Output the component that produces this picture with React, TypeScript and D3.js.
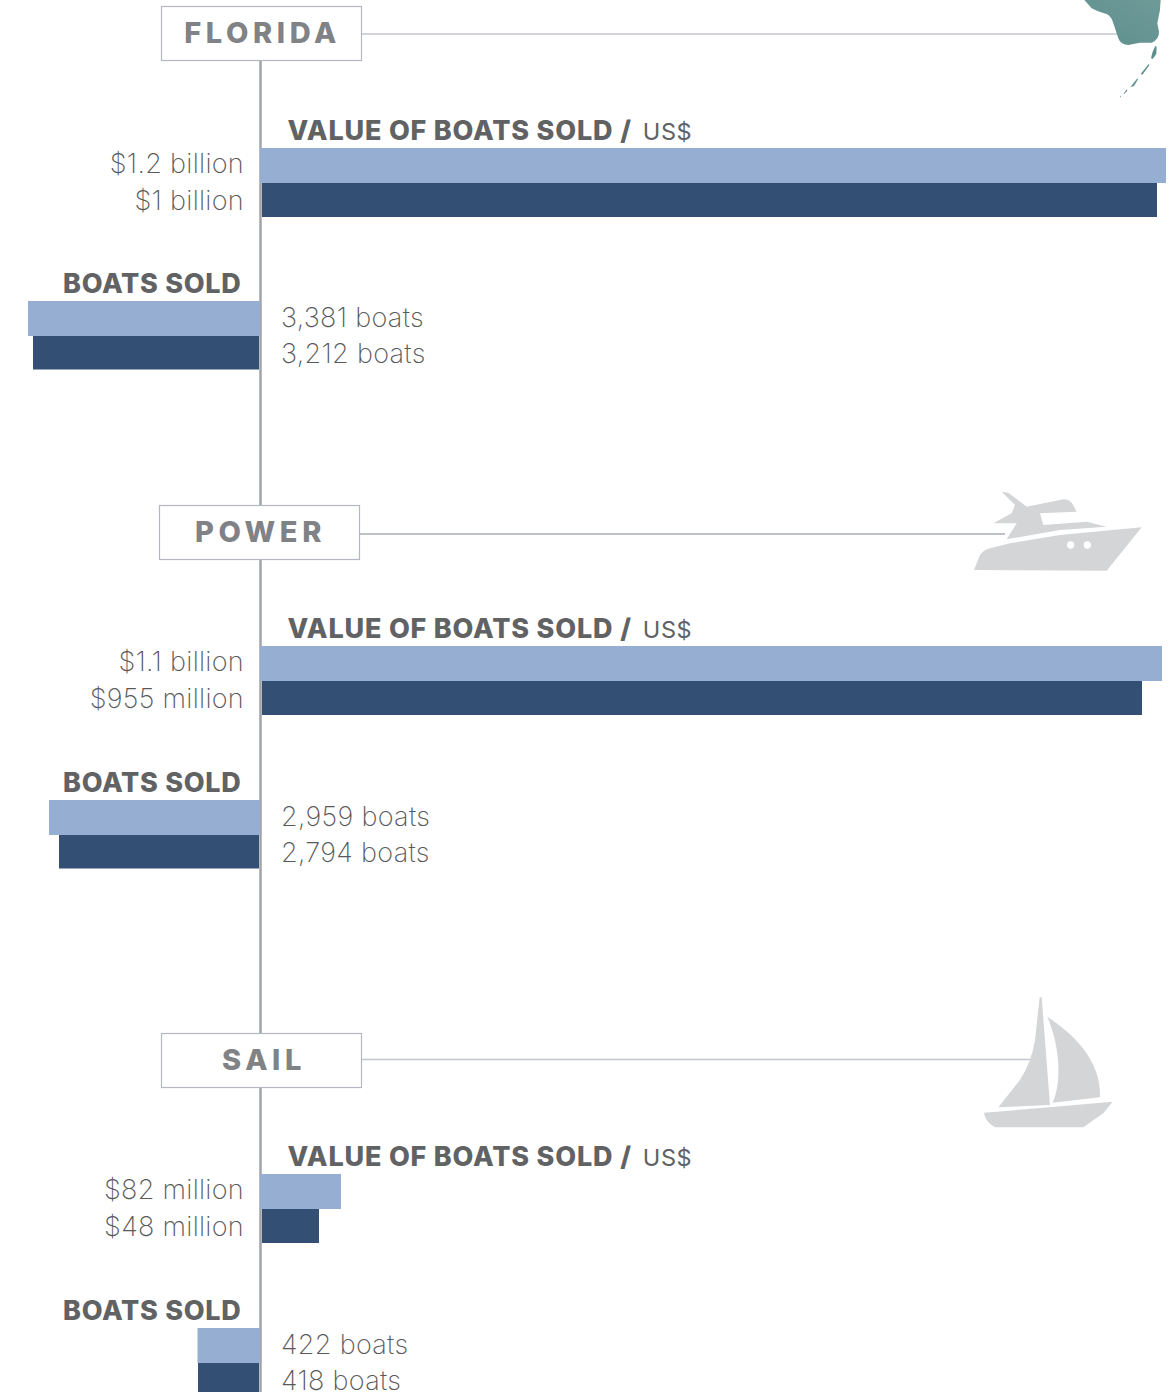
import React from "react";
import * as d3 from "d3";

const sections = ["FLORIDA", "POWER", "SAIL"];
const valueAmounts = [[1200, 1000], [1100, 955], [82, 48]];
const valueLabels = [["$1.2 billion", "$1 billion"], ["$1.1 billion", "$955 million"], ["$82 million", "$48 million"]];
const boatCounts = [[3381, 3212], [2959, 2794], [422, 418]];
const boatLabels = [["3,381 boats", "3,212 boats"], ["2,959 boats", "2,794 boats"], ["422 boats", "418 boats"]];

const AXIS = 260.5;
const valueScale = d3.scaleLinear().domain([0, 48, 82, 955, 1000, 1100, 1200]).range([0, 57, 81, 880, 895, 902, 906]);
const boatScale = d3.scaleLinear().domain([0, 418, 422, 2794, 2959, 3212, 3381]).range([0, 62, 62.5, 201, 211, 227, 232]);

const layout = [
  { boxX: 161, boxY: 6, lineEnd: 1120, lineY: 34, textX: 262.5, v: 148, b: 301, vGap: 35, bGap: 35, lineColor: "#c3c5ce" },
  { boxX: 159, boxY: 505, lineEnd: 1005, lineY: 534, textX: 260.5, v: 646, b: 800, vGap: 35, bGap: 35, lineColor: "#a9abb8" },
  { boxX: 161, boxY: 1033, lineEnd: 1035, lineY: 1059.5, textX: 264, v: 1174, b: 1328, vGap: 35, bGap: 35, lineColor: "#c3c5ce" },
];
const LIGHT = "#97aed3";
const DARK = "#344f74";
const FONT = "Inter, sans-serif";

const MAP = "M103 0L125 25Q150 38 170 42Q185 50 190 70L205 115Q212 135 235 135L270 128L305 128Q328 118 327 95L322 70L330 30L332 0Z";
const KEYS = ["M316 138L320 140L319 162L308 177L303 175L308 155Z", "M296 192L298 196L277 224L272 222Z", "M262 235L264 238L252 258L241 262Z", "M231 268L232 272L222 282L221 280Z", "M211 287L213 288L211 293L210 292Z"];
const YACHT = ["M42 270L60 225Q70 210 90 205L150 190L300 165L545 142L440 272Z", "M125 35L145 38L200 80L310 58Q330 58 338 72L350 95L240 100L250 135L380 125L440 140L300 150L140 178L170 130L100 130L155 100L165 75Z"];
const SAIL = ["M209 22L215 22L240 345L85 352L150 270Q185 215 195 150Z", "M232 80C300 125 395 205 390 322L248 338C275 280 272 175 232 80Z", "M42 368L238 352L428 335L400 370L340 412L75 412Q45 395 42 368Z"];

function ValueLabel({ x, y, text, anchor }: any) {
  return <text x={x} y={y} textAnchor={anchor} fontFamily={FONT} fontWeight={200} fontSize={27} letterSpacing={0.3} fill="#58595b">{text}</text>;
}

export default function App() {
  return (
    <svg width={1170} height={1392} style={{ position: "absolute", left: 0, top: 0, background: "#fff" }}>
      <defs>
        <linearGradient id="map" x1="0" y1="1" x2="1" y2="0">
          <stop offset="0" stopColor="#5d8f8e" />
          <stop offset="1" stopColor="#6f9a98" />
        </linearGradient>
      </defs>
      <line x1={AXIS} x2={AXIS} y1={60} y2={1392} stroke="#a0a3ab" strokeWidth={2.5} />
      {sections.map((name, i) => {
        const l = layout[i];
        return (
          <g key={name}>
            <line x1={l.boxX + 200} x2={l.lineEnd} y1={l.lineY} y2={l.lineY} stroke={l.lineColor} strokeWidth={1.4} />
            <rect x={l.boxX + 0.5} y={l.boxY + 0.5} width={200} height={54} fill="#fff" stroke="#b4b7c0" strokeWidth={1.2} />
            <text x={l.textX} y={l.boxY + 37} textAnchor="middle" fontFamily={FONT} fontWeight={800} fontSize={29} letterSpacing={4.6} fill="#808285">{name}</text>
            <text x={287.5} y={l.v - 8.5} fontFamily={FONT} fontSize={27} fontWeight={800} fill="#616264" letterSpacing={0.8}>VALUE OF BOATS SOLD
              <tspan dx={8} fontWeight={800}>/</tspan><tspan dx={11} fontWeight={400} fontSize={23.5} letterSpacing={0.6}>US$</tspan></text>
            {valueAmounts[i].map((v, k) => (
              <g key={k}>
                <rect x={k === 0 ? 260 : 262} y={l.v + k * l.vGap} width={valueScale(v)} height={k === 0 ? 35 : 34} fill={k === 0 ? LIGHT : DARK} />
                <ValueLabel x={244} y={l.v + 25 + k * 36.5} text={valueLabels[i][k]} anchor="end" />
              </g>
            ))}
            <text x={241.5} y={l.b - 8.5} textAnchor="end" fontFamily={FONT} fontSize={27} fontWeight={800} fill="#616264" letterSpacing={0.7}>BOATS SOLD</text>
            {boatCounts[i].map((v, k) => (
              <g key={k}>
                <rect x={260 - boatScale(v)} y={l.b + k * l.bGap} width={boatScale(v) - (k === 0 ? 0 : 1)} height={k === 0 ? 35 : 33.5} fill={k === 0 ? LIGHT : DARK} />
                <ValueLabel x={281} y={l.b + 26 + k * 36} text={boatLabels[i][k]} anchor="start" />
              </g>
            ))}
          </g>
        );
      })}
      <g transform="translate(1050,0) scale(0.3333)">
        <path d={MAP} fill="url(#map)" />
        {KEYS.map((d, i) => <path key={i} d={d} fill="#5d8f8e" />)}
      </g>
      <g transform="translate(960,480) scale(0.3333)" fill="#d3d5d7">
        {YACHT.map((d, i) => <path key={i} d={d} />)}
        <circle cx={332} cy={195} r={11} fill="#fff" />
        <circle cx={382} cy={195} r={11} fill="#fff" />
      </g>
      <g transform="translate(970,990) scale(0.3333)" fill="#d3d5d7">
        {SAIL.map((d, i) => <path key={i} d={d} />)}
      </g>
    </svg>
  );
}
